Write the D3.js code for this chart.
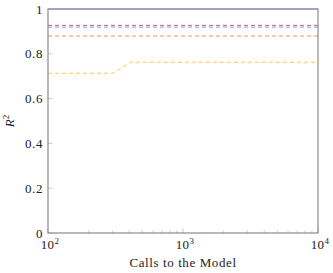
<!DOCTYPE html>
<html>
<head>
<meta charset="utf-8">
<script src="https://cdn.jsdelivr.net/npm/d3@7"></script>
<style>
body { margin: 0; background: #fff; }
text { font-family: "Liberation Serif", "DejaVu Serif", serif; fill: #222; }
</style>
</head>
<body>
<script>
// data
var yTicks = [0, 0.2, 0.4, 0.6, 0.8, 1];
var xTicks = [2, 3, 4]; // exponents of 10
var flatCalls = [100, 10000];
var solidVals = [1, 1];
var pinkVals = [0.927, 0.927];
var blueVals = [0.919, 0.919];
var orangeVals = [0.879, 0.879];
var yellowCalls = [100, 300, 320, 350, 380, 410, 10000];
var yellowVals = [0.713, 0.713, 0.722, 0.737, 0.752, 0.762, 0.762];

var width = 333, height = 273;
var margin = {left: 48, right: 15, top: 9, bottom: 40};

var svg = d3.select("body").append("svg")
	.attr("width", width)
	.attr("height", height);

var x = d3.scaleLog()
	.domain([100, 10000])
	.range([margin.left, width - margin.right]);
var y = d3.scaleLinear()
	.domain([0, 1])
	.range([height - margin.bottom, margin.top]);

//minor x ticks, pointing inward
var minor = [];
[100, 1000].forEach(function(b){
	for (var k = 2; k <= 9; k++) minor.push(b * k);
});
svg.selectAll(".minor")
	.data(minor)
	.enter()
	.append("line")
	.attr("x1", function(d){ return x(d); })
	.attr("x2", function(d){ return x(d); })
	.attr("y1", y(0))
	.attr("y2", y(0) - 2.5)
	.attr("stroke", "#aaa")
	.attr("stroke-width", 0.6);
svg.selectAll(".major")
	.data(xTicks)
	.enter()
	.append("line")
	.attr("x1", function(d){ return x(Math.pow(10, d)); })
	.attr("x2", function(d){ return x(Math.pow(10, d)); })
	.attr("y1", y(0))
	.attr("y2", y(0) - 4.5)
	.attr("stroke", "#aaa")
	.attr("stroke-width", 0.6);

//y ticks
svg.selectAll(".ytick")
	.data(yTicks)
	.enter()
	.append("line")
	.attr("x1", margin.left)
	.attr("x2", margin.left + 4.5)
	.attr("y1", function(d){ return y(d); })
	.attr("y2", function(d){ return y(d); })
	.attr("stroke", "#aaa")
	.attr("stroke-width", 0.6);

svg.selectAll(".ylab")
	.data(yTicks)
	.enter()
	.append("text")
	.attr("x", margin.left - 5)
	.attr("y", function(d){ return y(d) + 4.5; })
	.attr("text-anchor", "end")
	.attr("font-size", 13)
	.attr("letter-spacing", 0.6)
	.text(function(d){ return d; });

var xl = svg.selectAll(".xlab")
	.data(xTicks)
	.enter()
	.append("text")
	.attr("x", function(d){ return x(Math.pow(10, d)) + 2; })
	.attr("y", y(0) + 16)
	.attr("text-anchor", "middle")
	.attr("font-size", 13)
	.attr("letter-spacing", 0.4);
xl.append("tspan").text("10");
xl.append("tspan")
	.attr("dy", -5)
	.attr("font-size", 9)
	.text(function(d){ return d; });

svg.append("text")
	.attr("x", (x.range()[0] + x.range()[1]) / 2)
	.attr("y", 267)
	.attr("text-anchor", "middle")
	.attr("font-size", 13)
	.attr("letter-spacing", 0.6)
	.text("Calls to the Model");

var yl = svg.append("text")
	.attr("transform", "translate(14," + ((y(0) + y(1)) / 2) + ") rotate(-90)")
	.attr("text-anchor", "middle")
	.attr("font-size", 13);
yl.append("tspan").attr("font-style", "italic").text("R");
yl.append("tspan").attr("dy", -5).attr("font-size", 9).text("2");

//series
var line = d3.line()
	.x(function(d){ return x(d[0]); })
	.y(function(d){ return y(d[1]); });

function addSeries(calls, vals, color, dash, w){
	svg.append("path")
		.datum(d3.zip(calls, vals))
		.attr("d", line)
		.attr("fill", "none")
		.attr("stroke", color)
		.attr("stroke-width", w)
		.attr("stroke-dasharray", dash);
}

addSeries(yellowCalls, yellowVals, "#ffc845", "4,3", 1);
addSeries(flatCalls, orangeVals, "#fc8d45", "4,3", 1);
addSeries(flatCalls, blueVals, "#7f9ee0", "4,3", 1);
addSeries(flatCalls, pinkVals, "#d2508f", "4,3", 1);

//axis frame
svg.append("rect")
	.attr("x", margin.left)
	.attr("y", margin.top)
	.attr("width", x.range()[1] - margin.left)
	.attr("height", y(0) - margin.top)
	.attr("fill", "none")
	.attr("stroke", "#8a8a8a")
	.attr("stroke-width", 1.2);

addSeries(flatCalls, solidVals, "#9e99cc", null, 1.6);
</script>
</body>
</html>
